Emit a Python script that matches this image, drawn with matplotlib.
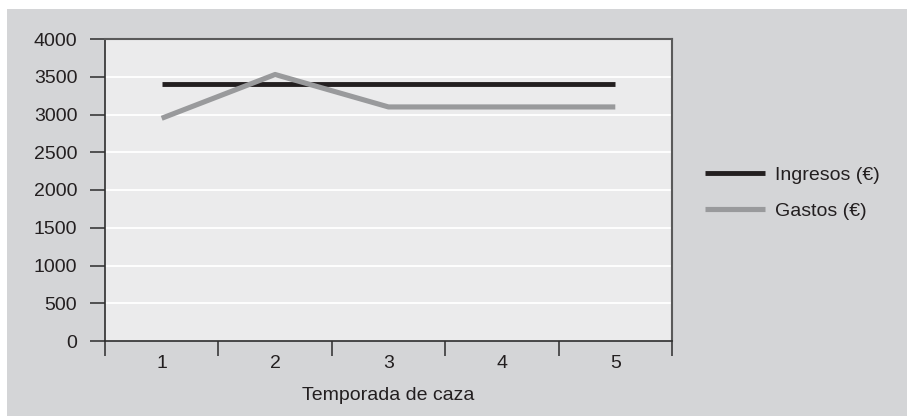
import matplotlib.pyplot as plt
from matplotlib.patches import Rectangle
from matplotlib.ticker import FixedLocator, NullFormatter

# Data
temporadas = [1, 2, 3, 4, 5]
ingresos = [3400, 3400, 3400, 3400, 3400]
gastos = [2950, 3530, 3100, 3100, 3100]
yticks = [0, 500, 1000, 1500, 2000, 2500, 3000, 3500, 4000]

plt.rcParams['font.family'] = ['Liberation Sans', 'DejaVu Sans']
plt.rcParams['font.size'] = 14

W, H = 907, 416
fig = plt.figure(figsize=(W / 100, H / 100), dpi=100)
fig.patch.set_facecolor('white')
fig.patches.append(Rectangle((7 / W, 0), 1 - 7 / W, (H - 9) / H,
                             transform=fig.transFigure, facecolor='#d4d5d7',
                             edgecolor='none', zorder=-10))

ax = fig.add_axes([105 / W, (H - 341) / H, (672 - 105) / W, (341 - 39) / H])
ax.set_facecolor('#ebebec')

ax.plot(temporadas, ingresos, color='#231f20', lw=3.5, label='Ingresos (€)',
        solid_capstyle='butt', zorder=3)
ax.plot(temporadas, gastos, color='#999a9c', lw=3.7, label='Gastos (€)',
        solid_capstyle='butt', zorder=3)

ax.set_xlim(0.5, 5.5)
ax.set_ylim(0, 4000)
ax.set_yticks(yticks)
ax.set_yticklabels([str(v) for v in yticks])
for v in yticks[1:-1]:
    ax.axhline(v, color='white', lw=1.3, zorder=1)

# category labels at centres, tick marks at boundaries
ax.xaxis.set_major_locator(FixedLocator([0.5, 1.5, 2.5, 3.5, 4.5, 5.5]))
ax.xaxis.set_major_formatter(NullFormatter())
ax.xaxis.set_minor_locator(FixedLocator(temporadas))
ax.set_xticklabels([str(t) for t in temporadas], minor=True)
ax.tick_params(axis='x', which='major', direction='out', length=11,
               width=1.2, color='#3a3a3a')
ax.tick_params(axis='x', which='minor', length=0, pad=10, labelsize=14,
               labelcolor='#231f20')
ax.tick_params(axis='y', direction='out', length=11, width=1.2,
               color='#3a3a3a', pad=9, labelsize=14, labelcolor='#231f20')

for side in ['left', 'bottom']:
    ax.spines[side].set_color('#2e2e2e')
    ax.spines[side].set_linewidth(1.2)
for side in ['top', 'right']:
    ax.spines[side].set_color('#5a5a5a')
    ax.spines[side].set_linewidth(1.5)

ax.set_xlabel('Temporada de caza', fontsize=14, color='#231f20', labelpad=11)

ax.legend(loc='center left', bbox_to_anchor=(1.058, 0.49), frameon=False,
          borderaxespad=0, borderpad=0,
          handlelength=3.1, handletextpad=0.5, labelspacing=0.92,
          fontsize=14, labelcolor='#231f20')

fig.savefig('out.png', dpi=100, facecolor=fig.get_facecolor())
